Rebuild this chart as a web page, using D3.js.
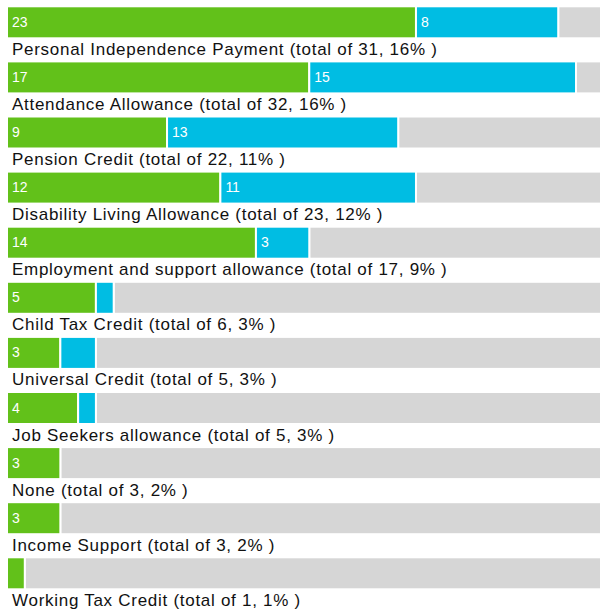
<!DOCTYPE html>
<html>
<head>
<meta charset="utf-8">
<script src="https://cdn.jsdelivr.net/npm/d3@7"></script>
<style>
  body { margin: 0; background: #fff; }
  svg { display: block; font-family: "Liberation Sans", Arial, Helvetica, sans-serif; }
  .label { font-size: 17px; fill: #111; letter-spacing: 0.72px; }
  .value { font-size: 14px; fill: #fff; }
</style>
</head>
<body>
<div id="chart"></div>
<script>
// data
const categories = [
  'Personal Independence Payment',
  'Attendance Allowance',
  'Pension Credit',
  'Disability Living Allowance',
  'Employment and support allowance',
  'Child Tax Credit',
  'Universal Credit',
  'Job Seekers allowance',
  'None',
  'Income Support',
  'Working Tax Credit'
];
const greenValues = [23, 17, 9, 12, 14, 5, 3, 4, 3, 3, 1];
const blueValues  = [8, 15, 13, 11, 3, 1, 2, 1, 0, 0, 0];
const percents    = [16, 16, 11, 12, 9, 3, 3, 3, 2, 2, 1];

const width = 600;
const height = 610;
const rowPitch = 55.1;
const barTop = 6.3;
const barHeight = 32;
const colors = { green: '#62c11a', blue: '#00bde3', grey: '#d6d6d6' };

const svg = d3.select('div#chart').append('svg').attr('width', width).attr('height', height);

// scales
const x = d3.scaleLinear().domain([0, 32]).range([7, 576]);
const domainMax = 34;
const y = d3.scaleLinear().domain([0, 1]).range([barTop, barTop + rowPitch]);

const rows = categories.map((c, i) => ({
  name: c,
  green: greenValues[i],
  blue: blueValues[i],
  total: greenValues[i] + blueValues[i],
  pct: percents[i],
  i: i
}));

const rowGroups = svg.selectAll('g.row').data(rows).enter()
  .append('g')
  .attr('class', 'row')
  .attr('transform', d => `translate(0,${y(d.i)})`);

// grey remainder
rowGroups.append('rect')
  .attr('x', d => x(d.total))
  .attr('y', 0)
  .attr('width', d => x(domainMax) - x(d.total))
  .attr('height', barHeight)
  .attr('fill', colors.grey)
  .attr('stroke', '#fff')
  .attr('stroke-width', 2);

// green segment
rowGroups.append('rect')
  .attr('x', x(0))
  .attr('y', 0)
  .attr('width', d => x(d.green) - x(0))
  .attr('height', barHeight)
  .attr('fill', colors.green)
  .attr('stroke', '#fff')
  .attr('stroke-width', 2);

// blue segment
rowGroups.filter(d => d.blue > 0).append('rect')
  .attr('x', d => x(d.green))
  .attr('y', 0)
  .attr('width', d => x(d.total) - x(d.green))
  .attr('height', barHeight)
  .attr('fill', colors.blue)
  .attr('stroke', '#fff')
  .attr('stroke-width', 2);

// values inside the bars
rowGroups.filter(d => d.green >= 3).append('text')
  .attr('class', 'value')
  .attr('x', x(0) + 5)
  .attr('y', 20.6)
  .text(d => d.green);

rowGroups.filter(d => d.blue >= 3).append('text')
  .attr('class', 'value')
  .attr('x', d => x(d.green) + 5)
  .attr('y', 20.6)
  .text(d => d.blue);

// labels under bars
rowGroups.append('text')
  .attr('class', 'label')
  .attr('x', 12)
  .attr('y', 48.6)
  .text(d => `${d.name} (total of ${d.total}, ${d.pct}% )`);
</script>
</body>
</html>
